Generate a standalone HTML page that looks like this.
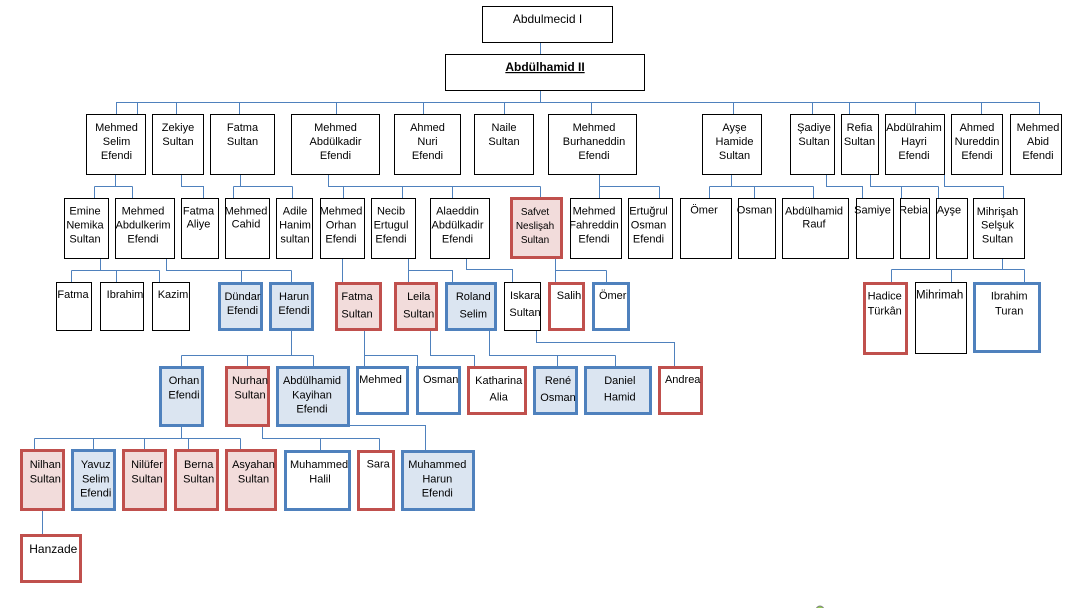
<!DOCTYPE html>
<html>
<head>
<meta charset="utf-8">
<style>
  html, body { margin: 0; padding: 0; background: #fff; }
  body { width: 1087px; height: 608px; overflow: hidden; position: relative; }
  svg { position: absolute; left: 0; top: 0; }
  .t { font-family: "Liberation Sans", "DejaVu Sans", sans-serif; font-size: 11px; fill: #000; text-anchor: middle; }
  .k { fill: #fff; stroke: #000; stroke-width: 1; }
  .b { fill: #dbe5f1; stroke: #4f81bd; stroke-width: 3; }
  .bw { fill: #fff; stroke: #4f81bd; stroke-width: 3; }
  .r { fill: #f2dcdb; stroke: #c0504d; stroke-width: 3; }
  .rw { fill: #fff; stroke: #c0504d; stroke-width: 3; }
  .ln { fill: none; stroke: #4f81bd; stroke-width: 1; }
</style>
</head>
<body>
<svg width="1087" height="608" viewBox="0 0 1087 608" xmlns="http://www.w3.org/2000/svg">
  <defs>
    <clipPath id="halil"><rect x="285" y="451" width="62.5" height="58"/></clipPath>
  </defs>

  <!-- connectors -->
  <path class="ln" d="
    M540.5 42 V54
    M540.5 91 V102.5
    M116 102.5 H1040
    M116.5 102.5 V114 M137.5 102.5 V114 M176.5 102.5 V114 M239.5 102.5 V114 M336.5 102.5 V114
    M423.5 102.5 V114 M504.5 102.5 V114 M591.5 102.5 V114 M733.5 102.5 V114 M812.5 102.5 V114
    M849.5 102.5 V114 M915.5 102.5 V114 M981.5 102.5 V114 M1039.5 102.5 V114

    M115.5 175 V186.5 M94.5 186.5 H132.5 M94.5 186.5 V198 M132.5 186.5 V198
    M181.5 175 V186.5 H203.5 V198
    M240.5 175 V186.5 M233.5 186.5 H292.5 M233.5 186.5 V198 M292.5 186.5 V198
    M328.5 175 V186.5 H540.5 M343.5 186.5 V198 M402.5 186.5 V198 M452.5 186.5 V198 M540.5 186.5 V198
    M599.5 175 V186.5 H659.5 M599.5 186.5 V198 M659.5 186.5 V198
    M731.5 175 V186.5 M709.5 186.5 H813.5 M709.5 186.5 V198 M754.5 186.5 V198 M813.5 186.5 V198
    M826.5 175 V186.5 H862.5 V198
    M870.5 175 V186.5 H938.5 M901.5 186.5 V198 M938.5 186.5 V198
    M944.5 175 V186.5 H1003.5 V198

    M100.5 259 V270.5 M71.5 270.5 H159.5 M71.5 270.5 V282 M116.5 270.5 V282 M159.5 270.5 V282
    M166.5 259 V270.5 H291.5 M241.5 270.5 V282 M291.5 270.5 V282
    M342.5 259 V282
    M408.5 259 V282 M408.5 270.5 H452.5 V282
    M466.5 259 V269.5 H512.5 V282
    M555.5 259 V270.5 H606.5 M555.5 270.5 V282 M606.5 270.5 V282
    M1002.5 259 V269.5 M891.5 269.5 H1024.5 M891.5 269.5 V282 M951.5 269.5 V282 M1024.5 269.5 V282

    M291.5 331 V355.5 M181.5 355.5 H313.5 M181.5 355.5 V366 M247.5 355.5 V366 M313.5 355.5 V366
    M364.5 331 V366 M364.5 355.5 H417.5 V366
    M430.5 331 V355.5 H474.5 V366
    M489.5 331 V355.5 H615.5 M557.5 355.5 V366 M615.5 355.5 V366
    M536.5 331 V342.5 H674.5 V366

    M181.5 427 V438.5 M34.5 438.5 H240.5 M34.5 438.5 V449 M93.5 438.5 V449 M144.5 438.5 V449 M188.5 438.5 V449 M240.5 438.5 V449
    M262.5 427 V438.5 H379.5 M320.5 438.5 V450 M379.5 438.5 V450
    M350 425.5 H425.5 V450
    M42.5 511 V534
  "/>

  <!-- top -->
  <rect class="k" x="482.5" y="6.5" width="130" height="36"/>
  <text class="t" x="547.5" y="23" style="font-size:12px">Abdulmecid I</text>
  <rect class="k" x="445.5" y="54.5" width="199" height="36"/>
  <text class="t" x="545" y="71" style="font-size:12px;font-weight:bold;text-decoration:underline">Abdülhamid  II</text>

  <!-- row 1 -->
  <g>
    <rect class="k" x="86.5" y="114.5" width="59" height="60"/>
    <text class="t" x="116.5" y="131">Mehmed</text><text class="t" x="116.5" y="145">Selim</text><text class="t" x="116.5" y="159">Efendi</text>
    <rect class="k" x="152.5" y="114.5" width="51" height="60"/>
    <text class="t" x="178" y="131">Zekiye</text><text class="t" x="178" y="145">Sultan</text>
    <rect class="k" x="210.5" y="114.5" width="64" height="60"/>
    <text class="t" x="242.5" y="131">Fatma</text><text class="t" x="242.5" y="145">Sultan</text>
    <rect class="k" x="291.5" y="114.5" width="88" height="60"/>
    <text class="t" x="335.5" y="131">Mehmed</text><text class="t" x="335.5" y="145">Abdülkadir</text><text class="t" x="335.5" y="159">Efendi</text>
    <rect class="k" x="394.5" y="114.5" width="66" height="60"/>
    <text class="t" x="427.5" y="131">Ahmed</text><text class="t" x="427.5" y="145">Nuri</text><text class="t" x="427.5" y="159">Efendi</text>
    <rect class="k" x="474.5" y="114.5" width="59" height="60"/>
    <text class="t" x="504" y="131">Naile</text><text class="t" x="504" y="145">Sultan</text>
    <rect class="k" x="548.5" y="114.5" width="88" height="60"/>
    <text class="t" x="594" y="131">Mehmed</text><text class="t" x="594" y="145">Burhaneddin</text><text class="t" x="594" y="159">Efendi</text>
    <rect class="k" x="702.5" y="114.5" width="59" height="60"/>
    <text class="t" x="734.5" y="131">Ayşe</text><text class="t" x="734.5" y="145">Hamide</text><text class="t" x="734.5" y="159">Sultan</text>
    <rect class="k" x="790.5" y="114.5" width="44" height="60"/>
    <text class="t" x="814" y="131">Şadiye</text><text class="t" x="814" y="145">Sultan</text>
    <rect class="k" x="841.5" y="114.5" width="37" height="60"/>
    <text class="t" x="859.5" y="131">Refia</text><text class="t" x="859.5" y="145">Sultan</text>
    <rect class="k" x="885.5" y="114.5" width="59" height="60"/>
    <text class="t" x="914" y="131">Abdülrahim</text><text class="t" x="914" y="145">Hayri</text><text class="t" x="914" y="159">Efendi</text>
    <rect class="k" x="951.5" y="114.5" width="51" height="60"/>
    <text class="t" x="977" y="131">Ahmed</text><text class="t" x="977" y="145">Nureddin</text><text class="t" x="977" y="159">Efendi</text>
    <rect class="k" x="1010.5" y="114.5" width="51" height="60"/>
    <text class="t" x="1038" y="131">Mehmed</text><text class="t" x="1038" y="145">Abid</text><text class="t" x="1038" y="159">Efendi</text>
  </g>

  <!-- row 2 -->
  <g>
    <rect class="k" x="64.5" y="198.5" width="44" height="60"/>
    <text class="t" x="85" y="214.7">Emine</text><text class="t" x="85" y="228.7">Nemika</text><text class="t" x="85" y="242.7">Sultan</text>
    <rect class="k" x="115.5" y="198.5" width="59" height="60"/>
    <text class="t" x="143" y="214.7">Mehmed</text><text class="t" x="143" y="228.7">Abdulkerim</text><text class="t" x="143" y="242.7">Efendi</text>
    <rect class="k" x="181.5" y="198.5" width="37" height="60"/>
    <text class="t" x="198.5" y="214.7">Fatma</text><text class="t" x="198.5" y="227.7">Aliye</text>
    <rect class="k" x="225.5" y="198.5" width="44" height="60"/>
    <text class="t" x="246" y="214.7">Mehmed</text><text class="t" x="246" y="227.7">Cahid</text>
    <rect class="k" x="276.5" y="198.5" width="36" height="60"/>
    <text class="t" x="295" y="214.7">Adile</text><text class="t" x="295" y="228.7">Hanim</text><text class="t" x="295" y="242.7">sultan</text>
    <rect class="k" x="320.5" y="198.5" width="44" height="60"/>
    <text class="t" x="341" y="214.7">Mehmed</text><text class="t" x="341" y="228.7">Orhan</text><text class="t" x="341" y="242.7">Efendi</text>
    <rect class="k" x="371.5" y="198.5" width="44" height="60"/>
    <text class="t" x="391" y="214.7">Necib</text><text class="t" x="391" y="228.7">Ertugul</text><text class="t" x="391" y="242.7">Efendi</text>
    <rect class="k" x="430.5" y="198.5" width="59" height="60"/>
    <text class="t" x="457.5" y="214.7">Alaeddin</text><text class="t" x="457.5" y="228.7">Abdülkadir</text><text class="t" x="457.5" y="242.7">Efendi</text>
    <rect class="r" x="511.5" y="198.5" width="50" height="59"/>
    <text class="t" x="535" y="215" style="font-size:10px">Safvet</text><text class="t" x="535" y="229" style="font-size:10px">Neslişah</text><text class="t" x="535" y="243" style="font-size:10px">Sultan</text>
    <rect class="k" x="570.5" y="198.5" width="51" height="60"/>
    <text class="t" x="594" y="214.7">Mehmed</text><text class="t" x="594" y="228.7">Fahreddin</text><text class="t" x="594" y="242.7">Efendi</text>
    <rect class="k" x="628.5" y="198.5" width="44" height="60"/>
    <text class="t" x="648.5" y="214.7">Ertuğrul</text><text class="t" x="648.5" y="228.7">Osman</text><text class="t" x="648.5" y="242.7">Efendi</text>
    <rect class="k" x="680.5" y="198.5" width="51" height="60"/>
    <text class="t" x="704" y="213.5">Ömer</text>
    <rect class="k" x="738.5" y="198.5" width="37" height="60"/>
    <text class="t" x="754.5" y="213.5">Osman</text>
    <rect class="k" x="782.5" y="198.5" width="66" height="60"/>
    <text class="t" x="814" y="214.5">Abdülhamid</text><text class="t" x="814" y="227.5">Rauf</text>
    <rect class="k" x="856.5" y="198.5" width="37" height="60"/>
    <text class="t" x="872.5" y="213.5">Samiye</text>
    <rect class="k" x="900.5" y="198.5" width="29" height="60"/>
    <text class="t" x="913.5" y="213.5">Rebia</text>
    <rect class="k" x="936.5" y="198.5" width="31" height="60"/>
    <text class="t" x="949" y="213.5">Ayşe</text>
    <rect class="k" x="973.5" y="198.5" width="51" height="60"/>
    <text class="t" x="997.5" y="215">Mihrişah</text><text class="t" x="997.5" y="228.5">Selşuk</text><text class="t" x="997.5" y="242.7">Sultan</text>
  </g>

  <!-- row 3 -->
  <g>
    <rect class="k" x="56.5" y="282.5" width="35" height="48"/>
    <text class="t" x="73" y="298">Fatma</text>
    <rect class="k" x="100.5" y="282.5" width="43" height="48"/>
    <text class="t" x="125" y="298">Ibrahim</text>
    <rect class="k" x="152.5" y="282.5" width="37" height="48"/>
    <text class="t" x="173" y="298">Kazim</text>
    <rect class="b" x="219.5" y="283.5" width="42" height="46"/>
    <text class="t" x="242.5" y="300">Dündar</text><text class="t" x="242.5" y="314">Efendi</text>
    <rect class="b" x="270.5" y="283.5" width="42" height="46"/>
    <text class="t" x="294" y="300">Harun</text><text class="t" x="294" y="314">Efendi</text>
    <rect class="r" x="336.5" y="283.5" width="44" height="46"/>
    <text class="t" x="357" y="300">Fatma</text><text class="t" x="357" y="317.3">Sultan</text>
    <rect class="r" x="395.5" y="283.5" width="41" height="46"/>
    <text class="t" x="418.7" y="300">Leila</text><text class="t" x="418.7" y="317.3">Sultan</text>
    <rect class="b" x="446.5" y="283.5" width="49" height="46"/>
    <text class="t" x="473.3" y="300">Roland</text><text class="t" x="473.3" y="317.3">Selim</text>
    <rect class="k" x="504.5" y="282.5" width="36" height="48"/>
    <text class="t" x="525" y="299">Iskara</text><text class="t" x="525" y="316">Sultan</text>
    <rect class="rw" x="549.5" y="283.5" width="34" height="46"/>
    <text class="t" x="569" y="299">Salih</text>
    <rect class="bw" x="593.5" y="283.5" width="35" height="46"/>
    <text class="t" x="612.7" y="299">Ömer</text>

    <rect class="rw" x="864.5" y="283.5" width="42" height="70"/>
    <text class="t" x="884.7" y="299.7">Hadice</text><text class="t" x="884.7" y="314.3">Türkân</text>
    <rect class="k" x="915.5" y="282.5" width="51" height="71"/>
    <text class="t" x="939.7" y="298.3" style="font-size:11.5px">Mihrimah</text>
    <rect class="bw" x="974.5" y="283.5" width="65" height="68"/>
    <text class="t" x="1009.2" y="299.7">Ibrahim</text><text class="t" x="1009.2" y="314.3">Turan</text>
  </g>

  <!-- row 4 -->
  <g>
    <rect class="b" x="160.5" y="367.5" width="42" height="58"/>
    <text class="t" x="184" y="384">Orhan</text><text class="t" x="184" y="398.3">Efendi</text>
    <rect class="r" x="226.5" y="367.5" width="42" height="58"/>
    <text class="t" x="250" y="384">Nurhan</text><text class="t" x="250" y="398.3">Sultan</text>
    <rect class="b" x="277.5" y="367.5" width="71" height="58"/>
    <text class="t" x="312" y="384">Abdülhamid</text><text class="t" x="312" y="398.3">Kayihan</text><text class="t" x="312" y="412.3">Efendi</text>
    <rect class="bw" x="357.5" y="367.5" width="50" height="46"/>
    <text class="t" x="380.5" y="383">Mehmed</text>
    <rect class="bw" x="417.5" y="367.5" width="42" height="46"/>
    <text class="t" x="440.7" y="383">Osman</text>
    <rect class="rw" x="468.5" y="367.5" width="57" height="46"/>
    <text class="t" x="498.7" y="384">Katharina</text><text class="t" x="498.7" y="400.7">Alia</text>
    <rect class="b" x="534.5" y="367.5" width="42" height="46"/>
    <text class="t" x="558" y="384">René</text><text class="t" x="558" y="401">Osman</text>
    <rect class="b" x="585.5" y="367.5" width="65" height="46"/>
    <text class="t" x="619.8" y="384">Daniel</text><text class="t" x="619.8" y="400.7">Hamid</text>
    <rect class="rw" x="659.5" y="367.5" width="42" height="46"/>
    <text class="t" x="682.7" y="383">Andrea</text>
  </g>

  <!-- row 5 -->
  <g>
    <rect class="r" x="21.5" y="450.5" width="42" height="59"/>
    <text class="t" x="45.3" y="468">Nilhan</text><text class="t" x="45.3" y="482.3">Sultan</text>
    <rect class="b" x="72.5" y="450.5" width="42" height="59"/>
    <text class="t" x="95.7" y="468">Yavuz</text><text class="t" x="95.7" y="482.3">Selim</text><text class="t" x="95.7" y="496.3">Efendi</text>
    <rect class="r" x="123.5" y="450.5" width="42" height="59"/>
    <text class="t" x="147" y="468">Nilüfer</text><text class="t" x="147" y="482.3">Sultan</text>
    <rect class="r" x="175.5" y="450.5" width="42" height="59"/>
    <text class="t" x="198.7" y="468">Berna</text><text class="t" x="198.7" y="482.3">Sultan</text>
    <rect class="r" x="226.5" y="450.5" width="49" height="59"/>
    <text class="t" x="253.5" y="468">Asyahan</text><text class="t" x="253.5" y="482.3">Sultan</text>
    <rect class="bw" x="285.5" y="451.5" width="64" height="58"/>
    <text class="t" x="290" y="468" style="text-anchor:start" clip-path="url(#halil)">Muhammed</text><text class="t" x="320" y="482.3">Halil</text>
    <rect class="rw" x="358.5" y="451.5" width="35" height="58"/>
    <text class="t" x="378.2" y="467.3">Sara</text>
    <rect class="b" x="402.5" y="451.5" width="71" height="58"/>
    <text class="t" x="437.3" y="468">Muhammed</text><text class="t" x="437.3" y="482.3">Harun</text><text class="t" x="437.3" y="496.3">Efendi</text>

    <rect class="rw" x="21.5" y="535.5" width="59" height="46"/>
    <text class="t" x="53.3" y="553" style="font-size:12px">Hanzade</text>
  </g>

  <!-- small green marker -->
  <circle cx="820" cy="610" r="4" fill="#92d050" stroke="#7f7f7f" stroke-width="1"/>
</svg>
</body>
</html>
